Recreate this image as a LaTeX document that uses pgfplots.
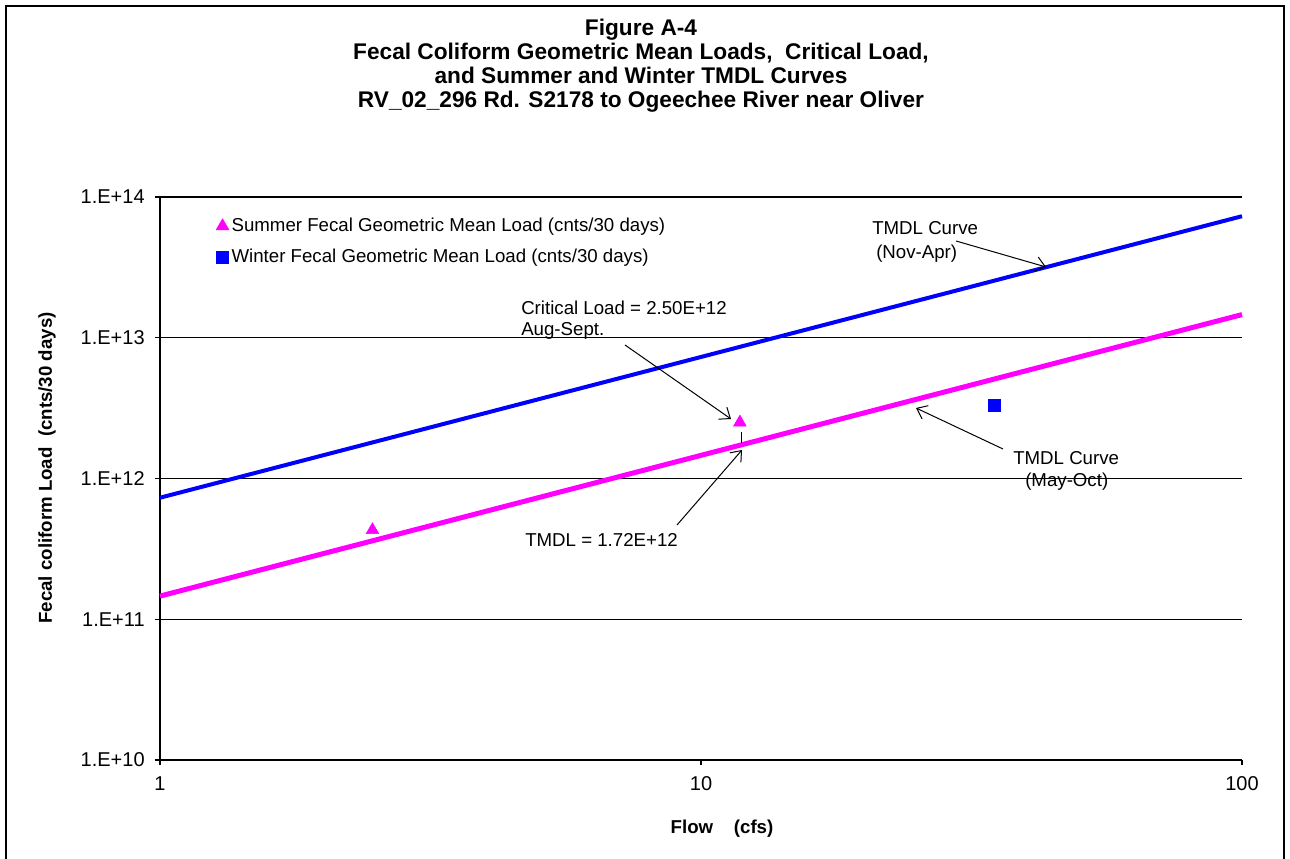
\documentclass[border=0pt]{standalone}
\usepackage{fontspec}
\setmainfont{Liberation Sans}
\usepackage{pgfplots}
\pgfplotsset{compat=1.18}
\usetikzlibrary{arrows.meta}
\definecolor{summer}{RGB}{255,0,255}
\definecolor{winter}{RGB}{0,0,255}
\newcommand{\fs}{\fontsize{14pt}{17.25pt}\selectfont}
\newcommand{\fst}{\fontsize{15pt}{18pt}\selectfont}
\begin{document}
\begin{tikzpicture}
\useasboundingbox (0,0) rectangle (967.5pt,644.25pt);
\begin{axis}[
  at={(120pt,74.25pt)}, anchor=south west,
  scale only axis, width=811.5pt, height=422.25pt,
  xmode=log, ymode=log,
  xmin=1, xmax=100, ymin=1e10, ymax=1e14,
  xtick={1,10,100}, xticklabels={1,10,100},
  ytick={1e10,1e11,1e12,1e13,1e14},
  yticklabels={1.E+10,1.E+11,1.E+12,1.E+13,1.E+14},
  xminorticks=false, yminorticks=false,
  axis x line*=bottom, axis y line*=left,
  axis line style={line width=1pt, -},
  ymajorgrids, major grid style={black, line width=0.8pt},
  tick align=outside, major tick length=4pt,
  tick style={black, line width=0.8pt},
  tick label style={font=\fst},
  yticklabel style={xshift=-4pt},
  xticklabel style={yshift=-5pt},
  legend style={at={(axis description cs:0.048,0.972)}, anchor=north west,
    draw=none, fill=none, font=\fs, row sep=7.5pt},
  legend cell align=left,
  legend image code/.code={\draw[#1] plot coordinates {(0pt,0pt)};},
  clip=false,
]
\addplot[winter, line width=3pt, forget plot] coordinates {(1,7.3e11) (100,7.3e13)};
\addplot[summer, line width=3.75pt, forget plot] coordinates {(1,1.46e11) (100,1.46e13)};
\addplot[only marks, mark=triangle*, mark size=5.5pt, color=summer] coordinates {(2.47,4.3e11) (11.8,2.5e12)};
\addlegendentry{Summer Fecal Geometric Mean Load (cnts/30 days)}
\addplot[only marks, mark=square*, mark size=4.5pt, color=winter] coordinates {(34.8,3.3e12)};
\addlegendentry{Winter Fecal Geometric Mean Load (cnts/30 days)}
\end{axis}
\begin{scope}[shift={(0pt,644.25pt)}, x=0.75pt, y=-0.75pt]
\draw[line width=1.5pt] (6,6) rectangle (1284,880);
\node[font={\fontsize{17pt}{18pt}\selectfont\bfseries}, align=center] at (641,66) {Figure A-4\\Fecal Coliform Geometric Mean Loads,\ \ Critical Load,\\and Summer and Winter TMDL Curves\\RV\_02\_296 Rd. S2178 to Ogeechee River near Oliver};
\node[font=\fs\bfseries, rotate=90] at (47,468) {Fecal coliform Load\ \ (cnts/30 days)};
\node[font=\fs\bfseries] at (722,829) {Flow\ \ \ \ (cfs)};
\begin{scope}[every node/.style={font=\fs, anchor=base west, inner sep=0pt}]
\node at (521,315) {Critical Load = 2.50E+12};
\node at (521,336) {Aug-Sept.};
\node at (525,547) {TMDL = 1.72E+12};
\node at (872,235) {TMDL Curve};
\node at (876,259) {(Nov-Apr)};
\node at (1013,465) {TMDL Curve};
\node at (1025,487) {(May-Oct)};
\end{scope}
\begin{scope}[line width=0.75pt, -{Straight Barb[length=7pt,width=11pt]}]
\draw (625,345) -- (731,419);
\draw (677,525) -- (742,450);
\draw (956,241) -- (1046,267);
\draw (1003,449) -- (916,408);
\end{scope}
\draw[line width=0.75pt] (741,432) -- (741,443);
\end{scope}
\end{tikzpicture}
\end{document}
